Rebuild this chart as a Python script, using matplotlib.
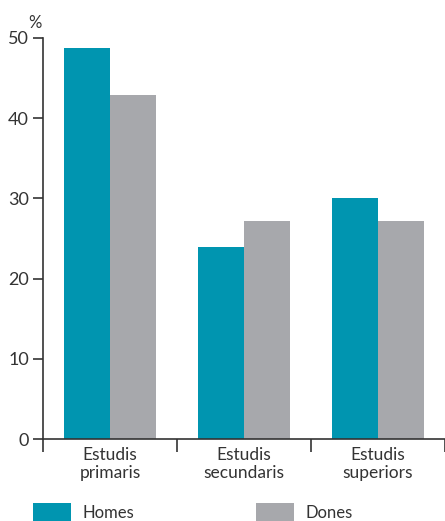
import matplotlib
matplotlib.use("Agg")
import matplotlib.pyplot as plt
from matplotlib.patches import Patch
import numpy as np

categories = ["Estudis\nprimaris", "Estudis\nsecundaris", "Estudis\nsuperiors"]
homes = [48.7, 23.9, 30.0]
dones = [42.9, 27.2, 27.2]
yticks = [0, 10, 20, 30, 40, 50]

c_homes = "#0095B0"
c_dones = "#A7A8AC"
dark = "#333333"

plt.rcParams["font.family"] = ["Lato", "DejaVu Sans"]

fig = plt.figure(figsize=(4.45, 5.21), dpi=100)
ax = fig.add_axes([43 / 445, 1 - 439 / 521, 1 - 43 / 445, (439 - 38) / 521])

x = np.arange(len(categories))
w = 0.343
ax.bar(x - w / 2, homes, w, color=c_homes, label="Homes")
ax.bar(x + w / 2, dones, w, color=c_dones, label="Dones")

ax.set_xlim(-0.5, 2.5)
ax.set_ylim(0, 50)
ax.set_yticks(yticks)
ax.set_xticks(x)
ax.set_xticklabels(categories, fontsize=12.5, color=dark, linespacing=1.1)
ax.set_xticks(np.arange(len(categories) + 1) - 0.5, minor=True)
ax.tick_params(axis="x", which="major", length=0, pad=6)
ax.tick_params(axis="x", which="minor", length=9, width=1.2, color=dark, direction="out")
ax.tick_params(axis="y", length=7, width=1.2, color=dark, labelsize=13, labelcolor=dark, pad=3)

for s in ["top", "right"]:
    ax.spines[s].set_visible(False)
for s in ["left", "bottom"]:
    ax.spines[s].set_color(dark)
    ax.spines[s].set_linewidth(1.2)
ax.spines["left"].set_bounds(0, 50)

fig.text(35 / 445, 1 - 23 / 521, "%", ha="center", va="center", fontsize=12, color=dark)

h1 = Patch(facecolor=c_homes, label="Homes")
h2 = Patch(facecolor=c_dones, label="Dones")
for h, xpos in [(h1, 33), (h2, 256)]:
    fig.legend(handles=[h], loc="upper left", bbox_to_anchor=(xpos / 445, 1 - 503 / 521),
               frameon=False, fontsize=12, borderpad=0, borderaxespad=0,
               handlelength=2.3, handleheight=1.35, handletextpad=0.65,
               labelcolor=dark)

fig.savefig("out.png", dpi=100)
